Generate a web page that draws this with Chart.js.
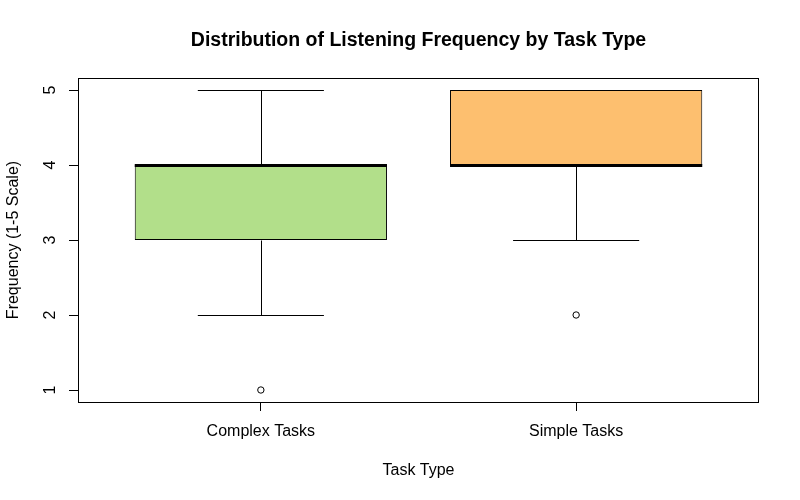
<!DOCTYPE html>
<html>
<head>
<meta charset="utf-8">
<script src="https://cdn.jsdelivr.net/npm/chart.js@4"></script>
<style>
  html, body { margin: 0; padding: 0; background: #fff; }
  #wrap { width: 800px; height: 500px; }
</style>
</head>
<body>
<div id="wrap"><canvas id="chart"></canvas></div>
<script>
// data
const tasks = ['Complex Tasks', 'Simple Tasks'];
const whiskerLow = [2, 3];
const q1 = [3, 4];
const medians = [4, 4];
const q3 = [4, 5];
const whiskerHigh = [5, 5];
const outliers = [[1], [2]];
const boxColors = ['#B2DF8A', '#FDBF6F'];
const yTicks = [1, 2, 3, 4, 5];

const FONT = '"Liberation Sans", Arial, sans-serif';
const BOX_W = 0.8;
const CAP_W = 0.4;

// whiskers, caps and medians on top of the boxes
const boxParts = {
  id: 'boxParts',
  afterDatasetsDraw(chart) {
    const { ctx, scales: { x, y } } = chart;
    const py = v => Math.round(y.getPixelForValue(v)) + 0.5;
    ctx.save();
    ctx.strokeStyle = '#000';
    tasks.forEach((t, i) => {
      const pos = i + 1;
      const cx = Math.round(x.getPixelForValue(pos)) + 0.5;
      const capL = x.getPixelForValue(pos - CAP_W / 2);
      const capR = x.getPixelForValue(pos + CAP_W / 2);
      ctx.lineWidth = 1;
      ctx.beginPath();
      ctx.moveTo(cx, py(q3[i])); ctx.lineTo(cx, py(whiskerHigh[i]));
      ctx.moveTo(cx, py(q1[i])); ctx.lineTo(cx, py(whiskerLow[i]));
      ctx.moveTo(capL, py(whiskerHigh[i])); ctx.lineTo(capR, py(whiskerHigh[i]));
      ctx.moveTo(capL, py(whiskerLow[i])); ctx.lineTo(capR, py(whiskerLow[i]));
      ctx.stroke();
      // median
      const bl = x.getPixelForValue(pos - BOX_W / 2);
      const br = x.getPixelForValue(pos + BOX_W / 2);
      const my = Math.round(y.getPixelForValue(medians[i])) + 0.5;
      ctx.lineWidth = 3;
      ctx.beginPath();
      ctx.moveTo(bl, my); ctx.lineTo(br, my);
      ctx.stroke();
    });
    ctx.restore();
  }
};

// frame round the plot region and main title
const frame = {
  id: 'frame',
  afterDraw(chart) {
    const { ctx, chartArea: a } = chart;
    ctx.save();
    ctx.strokeStyle = '#000';
    ctx.lineWidth = 1;
    ctx.strokeRect(a.left + 0.5, a.top + 0.5, a.right - a.left - 1, a.bottom - a.top);
    ctx.fillStyle = '#000';
    ctx.font = 'bold 19.5px ' + FONT;
    ctx.textAlign = 'center';
    ctx.textBaseline = 'middle';
    ctx.fillText('Distribution of Listening Frequency by Task Type', (a.left + a.right) / 2, 41);
    ctx.restore();
  }
};

const outlierPoints = [];
outliers.forEach((vals, i) => vals.forEach(v => outlierPoints.push({ x: i + 1, y: v })));

new Chart(document.getElementById('chart'), {
  type: 'bar',
  data: {
    datasets: [
      {
        type: 'bar',
        data: tasks.map((t, i) => ({ x: i + 1, y: [q1[i], q3[i]] })),
        backgroundColor: boxColors,
        borderColor: '#000',
        borderWidth: 1,
        borderSkipped: false,
        barPercentage: 1,
        categoryPercentage: BOX_W
      },
      {
        type: 'scatter',
        data: outlierPoints,
        pointRadius: 3.2,
        pointBorderWidth: 1,
        borderColor: '#000',
        backgroundColor: 'rgba(0,0,0,0)'
      }
    ]
  },
  options: {
    responsive: true,
    maintainAspectRatio: false,
    animation: false,
    layout: { padding: { top: 78, right: 41, bottom: 0, left: 0 } },
    plugins: { legend: { display: false }, tooltip: { enabled: false } },
    scales: {
      x: {
        type: 'linear',
        min: 0.42,
        max: 2.58,
        offset: false,
        afterBuildTicks: s => { s.ticks = tasks.map((t, i) => ({ value: i + 1 })); },
        afterFit: s => { s.height = 98; },
        ticks: {
          autoSkip: false, maxRotation: 0, padding: 11, color: '#000',
          font: { family: FONT, size: 16 },
          callback: v => tasks[v - 1]
        },
        grid: { offset: false, drawOnChartArea: false, drawTicks: true, tickLength: 9, color: '#000' },
        border: { display: false },
        title: { display: true, text: 'Task Type', color: '#000', font: { family: FONT, size: 16 }, padding: { top: 20, bottom: 20 } }
      },
      y: {
        min: 0.84,
        max: 5.16,
        afterBuildTicks: s => { s.ticks = yTicks.map(v => ({ value: v })); },
        afterFit: s => { s.width = 78; },
        ticks: {
          minRotation: 90, maxRotation: 90, crossAlign: 'center', padding: 14, color: '#000',
          font: { family: FONT, size: 16 }
        },
        grid: { drawOnChartArea: false, drawTicks: true, tickLength: 9, color: '#000' },
        border: { display: false },
        title: { display: true, text: 'Frequency (1-5 Scale)', color: '#000', font: { family: FONT, size: 16 }, padding: { top: 4, bottom: 4 } }
      }
    }
  },
  plugins: [boxParts, frame]
});
</script>
</body>
</html>
